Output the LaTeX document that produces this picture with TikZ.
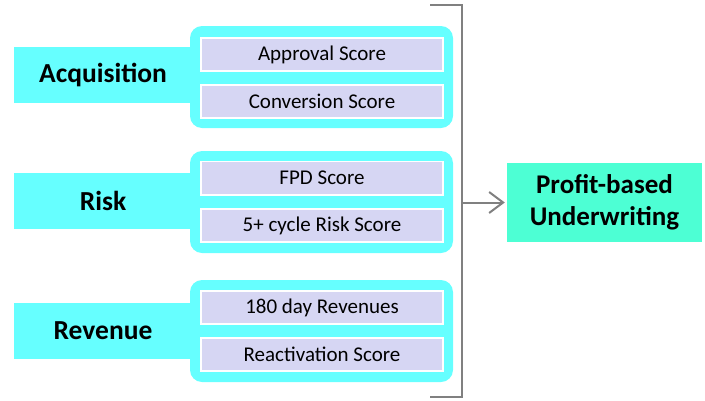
\documentclass[tikz,border=0pt]{standalone}
\usepackage{fontspec}
\setmainfont{Carlito}
\usetikzlibrary{arrows.meta}

\definecolor{catcyan}{RGB}{102,255,255}
\definecolor{scorefill}{RGB}{214,214,243}
\definecolor{profitgreen}{RGB}{77,255,212}
\definecolor{bracketgray}{RGB}{128,128,128}

\tikzset{
  category/.style={fill=catcyan, minimum width=178pt, minimum height=56pt,
    inner sep=0pt, font=\fontsize{27.5}{32}\selectfont\bfseries},
  container/.style={fill=catcyan, rounded corners=12pt, minimum width=263pt,
    minimum height=102pt, inner sep=0pt},
  scorebox/.style={fill=scorefill, draw=white, line width=1.6pt,
    minimum width=242.4pt, minimum height=33.4pt, inner sep=0pt,
    font=\fontsize{21}{25}\selectfont},
  result/.style={fill=profitgreen, minimum width=195pt, minimum height=79pt,
    inner sep=0pt, align=center, font=\fontsize{27}{32}\selectfont\bfseries},
  bracketline/.style={draw=bracketgray, line width=2pt},
}

\begin{document}
\begin{tikzpicture}[x=1pt, y=-1pt]
  \useasboundingbox (0,0) rectangle (705,400);

  % category labels
  \node[category] (acq) at (103,75) {Acquisition};
  \node[category] (risk) at (103,200.5) {Risk};
  \node[category] (rev) at (103,330.5) {Revenue};

  % rounded containers holding the scores
  \node[container] (acqbox) at (321.5,77) {};
  \node[container] (riskbox) at (321.5,202) {};
  \node[container] (revbox) at (321.5,331) {};

  % score boxes
  \node[scorebox] (approval) at (322,54.5) {Approval Score};
  \node[scorebox] (conversion) at (322,101.5) {Conversion Score};
  \node[scorebox] (fpd) at (322,178) {FPD Score};
  \node[scorebox] (cycle) at (322,225.5) {5+ cycle Risk Score};
  \node[scorebox] (revenues) at (322,307.5) {180 day Revenues};
  \node[scorebox] (reactivation) at (322,354.5) {Reactivation Score};

  % result
  \node[result] (profit) at (604.5,202.5) {Profit-based\\Underwriting};

  % bracket joining all groups
  \coordinate (btop) at (430,5);
  \coordinate (bbot) at (430,397);
  \coordinate (bmid) at (462,202.5);
  \draw[bracketline, line join=miter] (btop) -- (462,5) -- (462,397) -- (bbot);
  \draw[bracketline, shorten >=2pt,
        -{Straight Barb[length=14pt, width=21pt, line width=2pt]}]
    (bmid) -- (profit.west);
\end{tikzpicture}
\end{document}
